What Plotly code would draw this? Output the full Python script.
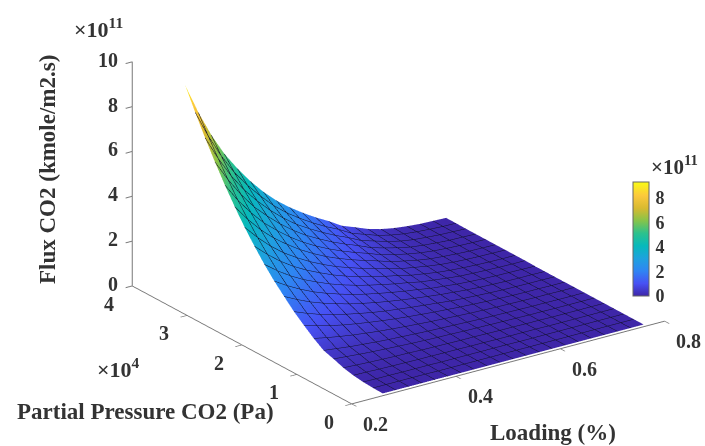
import plotly.graph_objects as go

loading = [0.265, 0.29, 0.315, 0.34, 0.365, 0.39, 0.415, 0.44, 0.465, 0.49, 0.515, 0.54, 0.565, 0.59, 0.615, 0.64, 0.665, 0.69, 0.715, 0.74, 0.765]
pressure = [500, 2300, 4100, 5900, 7700, 9500, 11300, 13100, 14900, 16700, 18500, 20300, 22100, 23900, 25700, 27500, 29300, 31100, 32900, 34700, 36500]

# Flux in units of 1e11, one row per pressure (low to high), columns by loading
flux = [
 [0.00]*21,
 [.01,.01,.01,.01,.01,0,0,0,0,0,0,0,0,0,0,0,0,0,0,0,0],
 [.04,.03,.03,.02,.02,.02,.01,.01,.01,.01,.01,.01,0,0,0,0,0,0,0,0,0],
 [.10,.09,.07,.06,.05,.04,.04,.03,.03,.02,.02,.01,.01,.01,.01,0,0,0,0,0,0],
 [.20,.17,.14,.12,.10,.09,.07,.06,.05,.04,.04,.03,.02,.02,.01,.01,0,0,0,0,0],
 [.36,.31,.26,.22,.19,.16,.13,.11,.09,.08,.06,.05,.04,.03,.02,.01,.01,0,0,0,0],
 [.50,.43,.36,.31,.26,.22,.19,.16,.13,.11,.09,.07,.05,.04,.03,.02,.01,.01,0,0,0],
 [.80,.68,.58,.49,.42,.35,.30,.25,.21,.17,.14,.11,.08,.06,.04,.03,.02,.01,.01,0,0],
 [1.15,.98,.83,.70,.60,.51,.43,.36,.30,.25,.20,.16,.12,.09,.06,.04,.02,.01,.01,0,0],
 [1.52,1.29,1.09,.93,.79,.67,.56,.47,.40,.33,.27,.21,.15,.11,.08,.05,.03,.02,.01,.01,0],
 [1.96,1.67,1.41,1.20,1.02,.86,.73,.61,.51,.42,.34,.27,.20,.15,.10,.06,.04,.02,.01,.01,0],
 [2.41,2.05,1.74,1.47,1.25,1.06,.89,.75,.63,.52,.42,.34,.24,.18,.12,.08,.05,.03,.02,.01,0],
 [2.92,2.48,2.10,1.78,1.52,1.28,1.08,.91,.76,.63,.51,.41,.29,.22,.15,.09,.06,.04,.02,.01,.01],
 [3.49,2.97,2.51,2.13,1.81,1.54,1.29,1.08,.91,.75,.61,.49,.35,.26,.17,.11,.07,.04,.02,.01,.01],
 [4.10,3.49,2.95,2.50,2.13,1.80,1.52,1.27,1.07,.88,.72,.57,.41,.31,.21,.13,.08,.05,.03,.02,.01],
 [4.78,4.06,3.44,2.92,2.49,2.10,1.77,1.48,1.24,1.03,.84,.67,.48,.36,.24,.15,.10,.06,.03,.02,.01],
 [5.51,4.68,3.97,3.36,2.87,2.42,2.04,1.71,1.43,1.18,.96,.77,.55,.41,.28,.18,.11,.07,.04,.02,.01],
 [6.30,5.36,4.54,3.84,3.28,2.77,2.33,1.95,1.64,1.35,1.10,.88,.63,.47,.32,.20,.13,.08,.04,.03,.01],
 [7.14,6.07,5.14,4.36,3.71,3.14,2.64,2.21,1.86,1.54,1.25,1.00,.71,.54,.36,.23,.14,.09,.05,.03,.01],
 [8.04,6.83,5.79,4.90,4.18,3.54,2.97,2.49,2.09,1.73,1.41,1.13,.80,.60,.40,.26,.16,.10,.06,.03,.02],
 [9.00,7.65,6.48,5.49,4.68,3.96,3.33,2.79,2.34,1.94,1.58,1.26,.90,.68,.45,.29,.18,.11,.06,.04,.02],
]

x_ticks = [0.2, 0.4, 0.6, 0.8]
y_ticks = [0, 10000, 20000, 30000, 40000]
y_labels = ["0", "1", "2", "3", "4"]
z_ticks = [0, 2, 4, 6, 8, 10]
cbar_ticks = [0, 2, 4, 6, 8]

parula = [
    [0.00, "#3e26a8"], [0.11, "#4751f4"], [0.22, "#2f85f3"], [0.33, "#1ea2de"],
    [0.44, "#07b9bb"], [0.55, "#2cc18d"], [0.66, "#86c44a"], [0.77, "#d8ba30"],
    [0.88, "#fcc93c"], [1.00, "#f9fb15"],
]

FONT = "Liberation Serif"
TXT = "#333333"
tick_font = dict(family=FONT, size=20, color=TXT)
AX = "#777777"
MESH = "#101028"


def b(s):
    return f"<b>{s}</b>"


annots = []
for v in x_ticks:
    annots.append(dict(x=v, y=0, z=0, text=b(f"{v:.1f}"), showarrow=False, xshift=24, yshift=-20, font=tick_font))
for v, t in zip(y_ticks, y_labels):
    annots.append(dict(x=0.2, y=v, z=0, text=b(t), showarrow=False, xshift=-23, yshift=-18, font=tick_font))
for v in z_ticks:
    annots.append(dict(x=0.2, y=40000, z=v, text=b(str(v)), showarrow=False, xanchor="right", xshift=-12, yshift=2, font=tick_font))

fig = go.Figure(go.Surface(
    x=loading, y=pressure, z=flux,
    colorscale=parula, cmin=0, cmax=9.3,
    lighting=dict(ambient=1, diffuse=0, specular=0, roughness=1, fresnel=0),
    contours=dict(
        x=dict(show=True, start=loading[0], end=loading[-1], size=0.025, color=MESH, width=2, highlight=False),
        y=dict(show=True, start=pressure[0], end=pressure[-1], size=1800, color=MESH, width=2, highlight=False),
        z=dict(show=False, highlight=False),
    ),
    colorbar=dict(
        lenmode="pixels", len=114, thickness=16, thicknessmode="pixels",
        x=633 / 705, xanchor="left", xpad=0, y=(446 - 296) / 446, yanchor="bottom", ypad=0,
        tickvals=cbar_ticks, tickfont=dict(family=FONT, size=18, color=TXT, weight="bold"),
        ticks="outside", ticklen=3, tickcolor="rgba(0,0,0,0)", outlinecolor="#666666", outlinewidth=1,
    ),
    hoverinfo="skip",
))


def axis(rng, vals):
    return dict(
        range=rng, tickvals=vals, showgrid=False, showbackground=False, zeroline=False,
        showline=True, linecolor=AX, linewidth=2, ticks="outside", ticklen=8, tickwidth=2, tickcolor=AX,
        showticklabels=False, title=dict(text=""), showspikes=False,
    )


def note(text, px, py, size=23, angle=0):
    return dict(text=text, x=px / 705, y=1 - py / 446, xref="paper", yref="paper", xanchor="center", yanchor="middle",
                textangle=angle, showarrow=False, font=dict(family=FONT, size=size, color=TXT))


fig.update_layout(
    width=705, height=446, paper_bgcolor="white", margin=dict(l=0, r=0, t=0, b=0),
    showlegend=False,
    scene=dict(
        domain=dict(x=[0, 1], y=[0, 1]),
        xaxis=axis([0.2, 0.8], x_ticks),
        yaxis=axis([0, 40000], y_ticks),
        zaxis=axis([0, 10], z_ticks),
        aspectmode="manual", aspectratio=dict(x=1.714, y=1.714, z=1.085),
        camera=dict(eye=dict(x=-1.209, y=-1.365, z=0.585), up=dict(x=0, y=0, z=1),
                    center=dict(x=-0.199, y=0.075, z=-0.131), projection=dict(type="orthographic")),
        annotations=annots,
    ),
    annotations=[
        note(b("Flux CO2 (kmole/m2.s)"), 47, 170, angle=-90),
        note(b("Partial Pressure CO2 (Pa)"), 145, 411),
        note(b("Loading (%)"), 553, 432),
        note(b("×10<sup>11</sup>"), 98, 28, size=22),
        note(b("×10<sup>4</sup>"), 118, 368, size=22),
        note(b("×10<sup>11</sup>"), 674, 166, size=21),
    ],
)

fig.write_html("out.html", post_script="document.body.style.margin='0';", config={"displayModeBar": False})
